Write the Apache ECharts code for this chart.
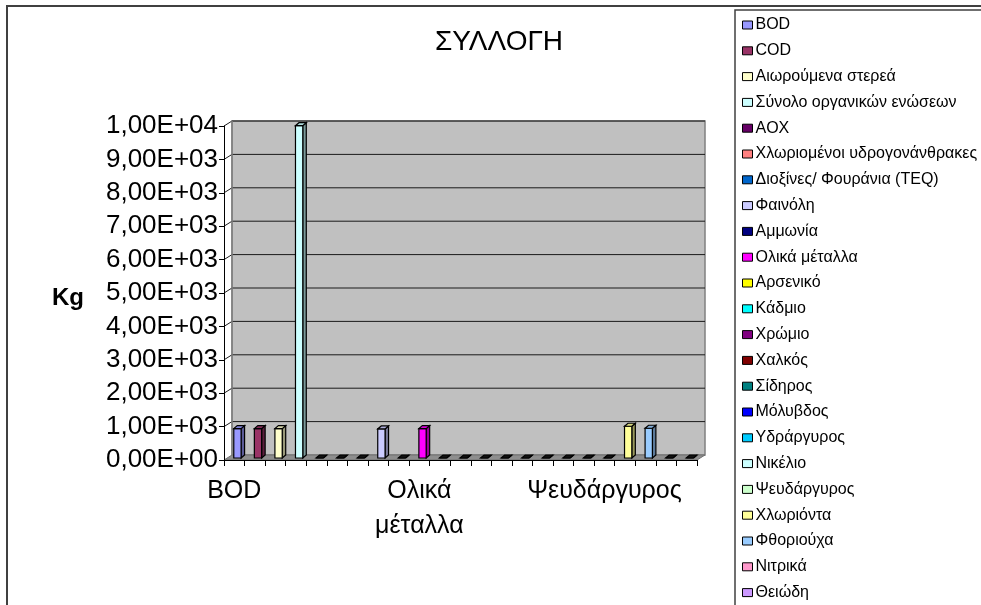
<!DOCTYPE html>
<html>
<head>
<meta charset="utf-8">
<script src="https://cdn.jsdelivr.net/npm/echarts@6/dist/echarts.min.js"></script>
<style>
  html, body { margin: 0; padding: 0; background: #fff; }
  #chart { width: 981px; height: 605px; }
</style>
</head>
<body>
<div id="chart"></div>
<script>
// Pollutant categories (also the legend entries)
const categories = [
  'BOD', 'COD', 'Αιωρούμενα στερεά', 'Σύνολο οργανικών ενώσεων', 'AOX',
  'Χλωριομένοι υδρογονάνθρακες', 'Διοξίνες/ Φουράνια (TEQ)', 'Φαινόλη', 'Αμμωνία',
  'Ολικά μέταλλα', 'Αρσενικό', 'Κάδμιο', 'Χρώμιο', 'Χαλκός', 'Σίδηρος', 'Μόλυβδος',
  'Υδράργυρος', 'Νικέλιο', 'Ψευδάργυρος', 'Χλωριόντα', 'Φθοριούχα', 'Νιτρικά', 'Θειώδη'
];
// Collected quantity per pollutant (Kg)
const values = [
  880, 880, 880, 9950, 0,
  0, 0, 870, 0,
  880, 0, 0, 0, 0, 0, 0,
  0, 0, 0, 950, 890, 0, 0
];
// Fill colour of each pollutant column
const colors = [
  '#9999FF', '#993366', '#FFFFCC', '#CCFFFF', '#660066',
  '#FF8080', '#0066CC', '#CCCCFF', '#000080',
  '#FF00FF', '#FFFF00', '#00FFFF', '#800080', '#800000', '#008080', '#0000FF',
  '#00CCFF', '#CCFFFF', '#CCFFCC', '#FFFF99', '#99CCFF', '#FF99CC', '#CC99FF'
];
// Value-axis ticks
const yTicks = [0, 1000, 2000, 3000, 4000, 5000, 6000, 7000, 8000, 9000, 10000];

const FONT = '"Liberation Sans", Arial, sans-serif';
const DEPTH_X = 8, DEPTH_Y = -5;   // back-wall offset of the 3D box

function sci(v) {
  if (v === 0) return '0,00E+00';
  const e = Math.floor(Math.log10(v) + 1e-9);
  const m = v / Math.pow(10, e);
  return m.toFixed(2).replace('.', ',') + 'E' + (e < 0 ? '-' : '+') + String(Math.abs(e)).padStart(2, '0');
}

function shade(hex, f) {
  const n = parseInt(hex.slice(1), 16);
  const r = Math.round(((n >> 16) & 255) * f);
  const g = Math.round(((n >> 8) & 255) * f);
  const b = Math.round((n & 255) * f);
  return 'rgb(' + r + ',' + g + ',' + b + ')';
}

// Back wall, floor and gridlines of the 3D plot box
function renderWall(params, api) {
  const cs = params.coordSys;
  const x0 = cs.x, x1 = cs.x + cs.width;
  const yZero = api.coord([0, 0])[1];
  const yMax = api.coord([0, yTicks[yTicks.length - 1]])[1];
  const children = [];
  children.push({
    type: 'rect',
    shape: { x: x0 + DEPTH_X, y: yMax + DEPTH_Y, width: x1 - x0, height: yZero - yMax },
    style: { fill: '#C0C0C0', stroke: '#808080', lineWidth: 1.5 }
  });
  children.push({
    type: 'polygon',
    shape: { points: [[x0, yZero], [x1, yZero], [x1 + DEPTH_X, yZero + DEPTH_Y], [x0 + DEPTH_X, yZero + DEPTH_Y]] },
    style: { fill: '#8E8E8E', stroke: '#707070', lineWidth: 1 }
  });
  yTicks.forEach(function (t) {
    if (t === 0) return;
    const y = api.coord([0, t])[1];
    children.push({
      type: 'polyline',
      shape: { points: [[x0, y], [x0 + DEPTH_X, y + DEPTH_Y], [x1 + DEPTH_X, y + DEPTH_Y]] },
      style: { stroke: '#1a1a1a', lineWidth: 1, fill: null }
    });
  });
  children.push({
    type: 'line',
    shape: { x1: x0 + DEPTH_X, y1: yMax + DEPTH_Y, x2: x0 + DEPTH_X, y2: yZero + DEPTH_Y },
    style: { stroke: '#808080', lineWidth: 1.5 }
  });
  return { type: 'group', children: children };
}

// One 3D column: front, side and top faces
function renderColumn(params, api) {
  const idx = api.value(0);
  const val = api.value(1);
  const base = api.coord([idx, 0]);
  const top = api.coord([idx, val]);
  const band = api.size([1, 0])[0];
  const w = band * 0.355;
  const dx = band * 0.17, dy = -3;
  const lift = -2;
  const fl = base[0] - 0.5, fr = fl + w;
  const fb = base[1] + lift, ft = top[1] + lift;
  const color = colors[idx];
  // a column of zero height collapses to its dark outline
  const flat = fb - ft < 1;
  const st = { stroke: '#000', lineWidth: 1.2 };
  return {
    type: 'group',
    children: [
      { type: 'polygon', shape: { points: [[fr, fb], [fr + dx, fb + dy], [fr + dx, ft + dy], [fr, ft]] },
        style: Object.assign({ fill: shade(color, 0.6) }, st) },
      { type: 'rect', shape: { x: fl, y: ft, width: w, height: fb - ft },
        style: Object.assign({ fill: color }, st) },
      { type: 'polygon', shape: { points: [[fl, ft], [fr, ft], [fr + dx, ft + dy], [fl + dx, ft + dy]] },
        style: Object.assign({ fill: flat ? '#111' : shade(color, 0.85) }, st) }
    ]
  };
}

const series = [{
  type: 'custom',
  name: '__wall',
  silent: true,
  z: 0,
  renderItem: renderWall,
  data: [[0, 0]]
}];
categories.forEach(function (name, i) {
  series.push({
    type: 'custom',
    name: name,
    z: 2,
    itemStyle: { color: colors[i] },
    renderItem: renderColumn,
    encode: { x: 0, y: 1 },
    data: [[i, values[i]]]
  });
});

const chart = echarts.init(document.getElementById('chart'), null, { renderer: 'canvas' });
chart.setOption({
  animation: false,
  backgroundColor: '#fff',
  grid: { left: 224, right: 284, top: 126, bottom: 145, containLabel: false },
  xAxis: {
    type: 'category',
    data: categories,
    boundaryGap: true,
    z: 5,
    axisLine: { lineStyle: { color: '#000', width: 1 } },
    axisTick: { show: true, interval: 0, length: 6, lineStyle: { color: '#000' } },
    axisLabel: {
      interval: 8,
      margin: 14,
      color: '#000',
      fontFamily: FONT,
      fontSize: 25,
      lineHeight: 35,
      formatter: function (v) { return v === 'Ολικά μέταλλα' ? 'Ολικά\nμέταλλα' : v; }
    },
    splitLine: { show: false }
  },
  yAxis: {
    type: 'value',
    min: 0,
    max: 10000,
    interval: 1000,
    z: 5,
    axisLine: { show: true, lineStyle: { color: '#000', width: 1 } },
    axisTick: { show: true, length: 5, lineStyle: { color: '#000' } },
    axisLabel: { color: '#000', fontFamily: FONT, fontSize: 26, margin: 6, formatter: sci },
    splitLine: { show: false }
  },
  legend: {
    data: categories,
    orient: 'vertical',
    left: 742,
    top: 17,
    padding: 0,
    itemWidth: 10,
    itemHeight: 8,
    itemGap: 9.8,
    icon: 'rect',
    itemStyle: { borderColor: '#000', borderWidth: 1 },
    textStyle: { color: '#000', fontFamily: FONT, fontSize: 16, lineHeight: 16, padding: [0, 0, 0, -2] },
    selectedMode: false
  },
  graphic: [
    { type: 'rect', silent: true, z: -10,
      shape: { x: 7, y: 6, width: 1000, height: 700 },
      style: { fill: null, stroke: '#404040', lineWidth: 2 } },
    { type: 'rect', silent: true, z: -5,
      shape: { x: 735, y: 10, width: 300, height: 700 },
      style: { fill: '#fff', stroke: '#404040', lineWidth: 1.5 } },
    { type: 'text', silent: true, x: 499, y: 42,
      style: { text: 'ΣΥΛΛΟΓΗ', font: '28px ' + FONT, fill: '#000', align: 'center', verticalAlign: 'middle' } },
    { type: 'text', silent: true, x: 68, y: 298,
      style: { text: 'Kg', font: 'bold 24px ' + FONT, fill: '#000', align: 'center', verticalAlign: 'middle' } }
  ],
  series: series
});
</script>
</body>
</html>
